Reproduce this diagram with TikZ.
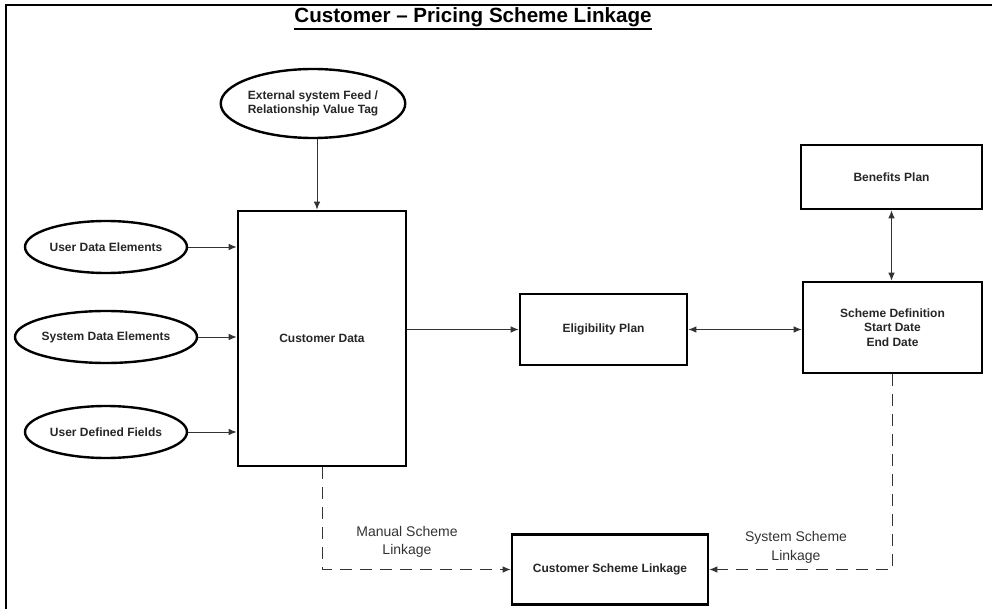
\documentclass[tikz,border=0pt]{standalone}
\usepackage{fontspec}
\setmainfont{Liberation Sans}
\usetikzlibrary{arrows.meta,shapes.geometric}
\begin{document}
\begin{tikzpicture}[x=1pt,y=-1pt,
  box/.style={draw=black,line width=2.6pt,rectangle,inner sep=0pt,align=center,
    font=\fontsize{12}{14.5}\selectfont\bfseries,text=black!85},
  oval/.style={draw=black,line width=2.4pt,ellipse,inner sep=0pt,align=center,
    font=\fontsize{12}{14.5}\selectfont\bfseries,text=black!85},
  arr/.style={draw=black!80,line width=0.9pt,-{Latex[length=8pt,width=6.5pt]}},
  darr/.style={draw=black!80,line width=0.9pt,{Latex[length=8pt,width=6.5pt]}-{Latex[length=8pt,width=6.5pt]}},
  dashline/.style={draw=black!80,line width=0.9pt,dash pattern=on 12pt off 8pt,-{Latex[length=8pt,width=6.5pt]}},
  lbl/.style={align=center,font=\fontsize{14}{18.5}\selectfont,text=black!80}]
\useasboundingbox (0,0) rectangle (992,609);
% frame
\draw[line width=2.8pt] (6,609) -- (6,5) -- (992,5);
% title
\node[font=\fontsize{20.6}{24}\selectfont\bfseries,inner sep=0pt] (title) at (473,17) {Customer -- Pricing Scheme Linkage};
\draw[line width=1.6pt] (title.south west) ++(0,2) coordinate (ul1) -- (ul1 -| title.south east);
% nodes
\node[oval,minimum width=168pt,minimum height=69pt] (ext) at (313,103.5) {External system Feed /\\Relationship Value Tag};
\node[box,minimum width=168pt,minimum height=255pt] (cd) at (322,338.5) {Customer Data};
\node[oval,minimum width=162pt,minimum height=52pt] (ude) at (106,247) {User Data Elements};
\node[oval,minimum width=162pt,minimum height=52pt] (sde) at (106,337) {System Data Elements};
\node[oval,minimum width=162pt,minimum height=52pt] (udf) at (106,432) {User Defined Fields};
\node[box,minimum width=167pt,minimum height=71pt] (elig) at (603.5,329.5) {Eligibility Plan};
\node[box,minimum width=179pt,minimum height=91pt] (sd) at (892.5,327.5) {Scheme Definition\\Start Date\\End Date};
\node[box,minimum width=181pt,minimum height=64pt] (ben) at (891.5,177) {Benefits Plan};
\node[box,minimum width=196pt,minimum height=70pt] (csl) at (610,569.5) {Customer Scheme Linkage};
% connectors
\path (ext.south) ++(4,0) coordinate (extb);
\draw[arr] (extb) -- (extb |- cd.north);
\draw[arr] (ude.east) -- (ude.east -| cd.west);
\draw[arr] (sde.east) -- (sde.east -| cd.west);
\draw[arr] (udf.east) -- (udf.east -| cd.west);
\draw[arr] (elig.west -| cd.east) -- (elig.west);
\draw[darr] (elig.east) -- (elig.east -| sd.west);
\draw[darr] (ben.south) -- (ben.south |- sd.north);
\draw[dashline] (cd.south) |- (csl.west);
\draw[dashline] (sd.south) |- (csl.east);
% labels
\node[lbl] (ml) at (407,542) {Manual Scheme\\Linkage};
\node[lbl] (sl) at (796,547.5) {System Scheme\\Linkage};
\end{tikzpicture}
\end{document}
